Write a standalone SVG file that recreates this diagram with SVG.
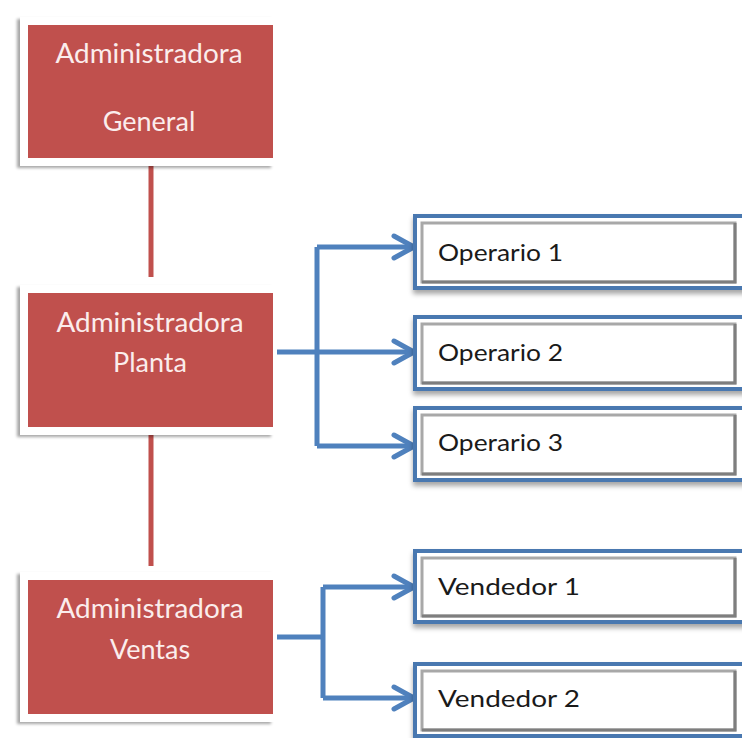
<svg xmlns="http://www.w3.org/2000/svg" width="742" height="738" viewBox="0 0 742 738">
  <style>
    .frame { fill: #ffffff; filter: url(#shadowL); }
    .red { fill: #C0504D; }
    .rtext { font-family: Lato, "Open Sans", "Liberation Sans", sans-serif; font-size: 27px; fill: #FBEDEC; text-anchor: middle; }
    .btext { font-family: Lato, "Open Sans", "Liberation Sans", sans-serif; font-size: 24px; fill: #1a1a1a; }
    .bluebox { fill: #ffffff; stroke: #4A78B0; stroke-width: 4; filter: url(#shadowB); }
    .bevel { fill: #ffffff; stroke: #A8A8A8; stroke-width: 3; }
    .bevelDark { fill: none; stroke: #7E7E7E; stroke-width: 3; }
    .redline { stroke: #C0504D; stroke-width: 5; fill: none; }
    .blueline { stroke: #4F81BD; stroke-width: 5; fill: none; stroke-linejoin: round; }
  </style>
  <defs>
    <filter id="shadowL" x="-10%" y="-10%" width="120%" height="125%">
      <feDropShadow dx="-3" dy="2" stdDeviation="1.5" flood-color="#000" flood-opacity="0.35"/>
    </filter>
    <filter id="shadowB" x="-5%" y="-10%" width="110%" height="130%">
      <feDropShadow dx="0" dy="4" stdDeviation="2.5" flood-color="#000" flood-opacity="0.35"/>
    </filter>
    <marker id="chev" viewBox="0 0 26 28" refX="23" refY="14" markerWidth="26" markerHeight="28" markerUnits="userSpaceOnUse" orient="auto">
      <path d="M3,3 L23,14 L3,25" fill="none" stroke="#4F81BD" stroke-width="5" stroke-linecap="round" stroke-linejoin="round"/>
    </marker>
  </defs>

  <rect width="742" height="738" fill="#ffffff"/>

  <!-- connectors -->
  <g id="connectors">
    <line class="redline" x1="151" y1="162" x2="151" y2="277"/>
    <line class="redline" x1="151" y1="432" x2="151" y2="566"/>
    <!-- plant branch -->
    <line class="blueline" x1="317" y1="247" x2="317" y2="446"/>
    <path class="blueline" d="M317,247 H414" marker-end="url(#chev)"/>
    <path class="blueline" d="M277,352 H414" marker-end="url(#chev)"/>
    <path class="blueline" d="M317,446 H414" marker-end="url(#chev)"/>
    <!-- sales branch -->
    <line class="blueline" x1="277" y1="637" x2="323" y2="637"/>
    <line class="blueline" x1="323" y1="587" x2="323" y2="698"/>
    <path class="blueline" d="M323,587 H414" marker-end="url(#chev)"/>
    <path class="blueline" d="M323,698 H414" marker-end="url(#chev)"/>
  </g>

  <!-- managers -->
  <g id="admin-general">
    <rect class="frame" x="20" y="17" width="254" height="149"/>
    <rect class="red" x="28" y="25" width="245" height="133"/>
    <text class="rtext" x="149" y="63" textLength="187" lengthAdjust="spacingAndGlyphs">Administradora</text>
    <text class="rtext" x="149" y="131">General</text>
  </g>
  <g id="admin-planta">
    <rect class="frame" x="20" y="285" width="254" height="150"/>
    <rect class="red" x="28" y="293" width="245" height="134"/>
    <text class="rtext" x="150" y="332" textLength="187" lengthAdjust="spacingAndGlyphs">Administradora</text>
    <text class="rtext" x="150" y="372">Planta</text>
  </g>
  <g id="admin-ventas">
    <rect class="frame" x="20" y="572" width="254" height="150"/>
    <rect class="red" x="28" y="580" width="245" height="134"/>
    <text class="rtext" x="150" y="618" textLength="187" lengthAdjust="spacingAndGlyphs">Administradora</text>
    <text class="rtext" x="150" y="659">Ventas</text>
  </g>

  <!-- staff -->
  <g id="operario-1">
    <rect class="bluebox" x="415" y="216" width="330" height="72"/>
    <rect class="bevel" x="422" y="223" width="313" height="59"/>
    <path class="bevelDark" d="M735,223 V282 H422"/>
    <text class="btext" x="438" y="261" textLength="125" lengthAdjust="spacingAndGlyphs">Operario 1</text>
  </g>
  <g id="operario-2">
    <rect class="bluebox" x="415" y="317" width="330" height="72"/>
    <rect class="bevel" x="422" y="324" width="313" height="59"/>
    <path class="bevelDark" d="M735,324 V383 H422"/>
    <text class="btext" x="438" y="361" textLength="125" lengthAdjust="spacingAndGlyphs">Operario 2</text>
  </g>
  <g id="operario-3">
    <rect class="bluebox" x="415" y="408" width="330" height="72"/>
    <rect class="bevel" x="422" y="415" width="313" height="59"/>
    <path class="bevelDark" d="M735,415 V474 H422"/>
    <text class="btext" x="438" y="451" textLength="125" lengthAdjust="spacingAndGlyphs">Operario 3</text>
  </g>
  <g id="vendedor-1">
    <rect class="bluebox" x="415" y="551" width="330" height="71"/>
    <rect class="bevel" x="422" y="558" width="313" height="58"/>
    <path class="bevelDark" d="M735,558 V616 H422"/>
    <text class="btext" x="438" y="595" textLength="142" lengthAdjust="spacingAndGlyphs">Vendedor 1</text>
  </g>
  <g id="vendedor-2">
    <rect class="bluebox" x="415" y="664" width="330" height="72"/>
    <rect class="bevel" x="422" y="671" width="313" height="59"/>
    <path class="bevelDark" d="M735,671 V730 H422"/>
    <text class="btext" x="438" y="707" textLength="142" lengthAdjust="spacingAndGlyphs">Vendedor 2</text>
  </g>
</svg>
